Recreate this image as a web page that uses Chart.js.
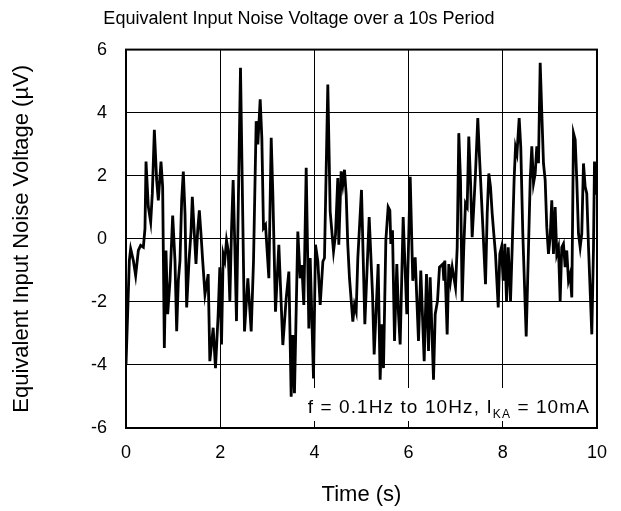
<!DOCTYPE html>
<html>
<head>
<meta charset="utf-8">
<script src="https://cdn.jsdelivr.net/npm/chart.js@4"></script>
<style>
  html, body { margin: 0; padding: 0; background: #fff; }
</style>
</head>
<body>
<canvas id="chart" width="621" height="511"></canvas>
<script>
// noise trace: time (s) and voltage (µV)
const timeS = [
  0.000, 0.071, 0.099, 0.156, 0.205, 0.262, 0.311, 0.368, 0.403, 0.425,
  0.474, 0.524, 0.559, 0.602, 0.651, 0.686, 0.743, 0.778, 0.814, 0.849,
  0.885, 0.934, 0.991, 1.040, 1.076, 1.111, 1.146, 1.182, 1.217, 1.253,
  1.288, 1.338, 1.380, 1.408, 1.451, 1.486, 1.522, 1.557, 1.592, 1.628,
  1.677, 1.745, 1.780, 1.851, 1.900, 1.957, 1.992, 2.028, 2.063, 2.098,
  2.134, 2.169, 2.205, 2.240, 2.275, 2.311, 2.346, 2.381, 2.431, 2.516,
  2.587, 2.658, 2.707, 2.764, 2.799, 2.849, 2.884, 2.919, 2.962, 3.033,
  3.083, 3.118, 3.174, 3.245, 3.330, 3.401, 3.458, 3.507, 3.542, 3.577,
  3.648, 3.698, 3.733, 3.775, 3.826, 3.882, 3.911, 3.981, 4.023, 4.073,
  4.123, 4.180, 4.214, 4.285, 4.335, 4.406, 4.448, 4.497, 4.518, 4.568,
  4.603, 4.639, 4.675, 4.709, 4.745, 4.816, 4.851, 4.887, 4.922, 5.000,
  5.071, 5.163, 5.234, 5.269, 5.354, 5.396, 5.432, 5.467, 5.517, 5.566,
  5.602, 5.623, 5.658, 5.701, 5.750, 5.786, 5.821, 5.885, 5.962, 6.034,
  6.089, 6.140, 6.210, 6.259, 6.331, 6.380, 6.423, 6.458, 6.529, 6.565,
  6.614, 6.656, 6.727, 6.748, 6.769, 6.819, 6.854, 6.890, 6.926, 6.996,
  7.032, 7.066, 7.102, 7.138, 7.172, 7.208, 7.244, 7.278, 7.314, 7.350,
  7.384, 7.420, 7.469, 7.505, 7.563, 7.633, 7.669, 7.703, 7.739, 7.775,
  7.809, 7.845, 7.903, 7.937, 7.972, 8.008, 8.043, 8.079, 8.115, 8.164,
  8.200, 8.240, 8.270, 8.301, 8.348, 8.382, 8.425, 8.497, 8.546, 8.582,
  8.616, 8.652, 8.688, 8.722, 8.758, 8.794, 8.828, 8.864, 8.900, 8.934,
  8.970, 9.006, 9.040, 9.076, 9.112, 9.146, 9.182, 9.218, 9.252, 9.288,
  9.324, 9.358, 9.395, 9.431, 9.465, 9.501, 9.537, 9.571, 9.607, 9.643,
  9.677, 9.713, 9.749, 9.783, 9.820, 9.890, 9.926, 9.947, 9.983, 10.000,
];
const noiseUV = [
  -4.00, -0.69, -0.32, -0.69, -1.17, -0.37, -0.21, -0.27, 0.32, 2.45,
  1.01, 0.53, 1.44, 3.46, 1.86, 1.22, 2.45, 1.65, -3.46, -0.37,
  -2.39, -1.33, 0.74, -0.69, -2.93, -1.33, -0.69, 1.22, 2.13, 0.80,
  -2.18, -0.69, 0.21, 1.33, 0.16, -0.80, 0.27, 0.90, 0.16, -0.69,
  -1.76, -1.12, -3.88, -2.82, -4.10, -2.39, -0.90, -3.35, -0.48, -0.69,
  -0.05, -0.37, -1.97, 0.27, 1.86, -0.27, -2.61, 0.80, 5.42, -2.94,
  -1.25, -2.94, -0.72, 3.73, 2.99, 4.42, 3.20, 0.34, 0.44, -1.25,
  3.20, 1.40, -2.31, -0.19, -3.37, -1.89, -1.04, -5.01, -3.05, -4.90,
  0.23, -1.25, -0.83, -2.10, 2.25, -2.84, -0.61, -4.43, -0.19, -0.72,
  -2.10, -0.72, -0.61, 4.89, 0.87, -0.40, 0.13, 1.93, -0.19, 2.14,
  1.72, 2.19, 1.40, -0.19, -1.25, -2.63, -2.10, -2.31, -0.61, 1.55,
  -2.71, 0.69, -1.76, -3.67, -0.80, -4.47, -2.71, -4.10, -0.05, 1.01,
  0.90, -0.16, 0.27, -3.24, -0.80, -2.39, -3.35, 0.69, -2.39, 1.97,
  -1.33, -0.59, -3.24, -1.01, -3.88, -1.12, -3.56, -1.22, -4.47, -2.39,
  -1.97, -0.90, -0.80, -1.33, -0.69, -3.03, -0.80, -1.33, -0.90, -1.54,
  -0.27, 3.35, 1.86, -1.97, -0.27, 1.12, 1.01, 3.24, 1.86, 0.05,
  1.01, 2.07, 3.83, 2.61, 0.80, -1.44, 0.80, 2.07, 1.65, 0.80,
  0.16, -0.48, -2.18, -0.48, -0.27, -1.33, -0.16, -1.97, -0.27, -1.97,
  -0.27, 1.86, 2.90, 2.70, 3.83, 2.90, 0.16, -3.10, -0.27, 1.86,
  2.93, 1.76, 2.07, 2.93, 2.40, 5.58, 4.00, 2.39, 1.86, 0.37,
  -0.48, 0.05, 1.22, -0.48, 1.01, -0.48, -0.27, -1.97, -0.27, -0.16,
  -0.90, -0.37, -1.33, -1.12, -1.86, 3.35, 3.14, 1.86, 0.16, -0.27,
  0.16, 2.39, 1.65, 1.44, -0.27, -3.03, -0.27, 2.45, 1.44, 2.30,
];
const xTicks = [0, 2, 4, 6, 8, 10];
const yTicks = [-6, -4, -2, 0, 2, 4, 6];

const TITLE = 'Equivalent Input Noise Voltage over a 10s Period';
const X_TITLE = 'Time (s)';
const Y_TITLE = 'Equivalent Input Noise Voltage (µV)';
const NOTE_HEAD = 'f = 0.1Hz to 10Hz, I';
const NOTE_SUB = 'KA';
const NOTE_TAIL = ' = 10mA';

const FONT_FAMILY = "Arial, 'Liberation Sans', sans-serif";

function useTicks(values) {
  return (scale) => { scale.ticks = values.map((v) => ({ value: v })); };
}

// white-backed condition note in the lower right, then the plot frame on top
const overlayPlugin = {
  id: 'overlay',
  afterDatasetsDraw(chart) {
    const { ctx, chartArea: a } = chart;
    const big = `19px ${FONT_FAMILY}`;
    const small = `12px ${FONT_FAMILY}`;
    ctx.save();
    ctx.letterSpacing = '1.1px';
    ctx.font = big;
    const wHead = ctx.measureText(NOTE_HEAD).width;
    const wTail = ctx.measureText(NOTE_TAIL).width;
    ctx.font = small;
    const wSub = ctx.measureText(NOTE_SUB).width;
    const right = a.right - 7;
    const x0 = right - (wHead + wSub + wTail);

    ctx.fillStyle = '#fff';
    ctx.fillRect(x0 - 5, a.bottom - 40, a.right - x0 + 5, 33);

    ctx.fillStyle = '#000';
    ctx.textBaseline = 'alphabetic';
    ctx.font = big;
    ctx.fillText(NOTE_HEAD, x0, a.bottom - 15);
    ctx.font = small;
    ctx.fillText(NOTE_SUB, x0 + wHead, a.bottom - 10);
    ctx.font = big;
    ctx.fillText(NOTE_TAIL, x0 + wHead + wSub, a.bottom - 15);

    ctx.strokeStyle = '#000';
    ctx.lineWidth = 2;
    ctx.strokeRect(a.left, a.top, a.right - a.left, a.bottom - a.top);
    ctx.restore();
  },
};

const tickFont = { family: FONT_FAMILY, size: 18 };
const axisTitleFont = { family: FONT_FAMILY, size: 22 };

new Chart(document.getElementById('chart'), {
  type: 'line',
  data: {
    datasets: [{
      data: timeS.map((t, i) => ({ x: t, y: noiseUV[i] })),
      borderColor: '#000',
      borderWidth: 2.8,
      pointRadius: 0,
      tension: 0,
      fill: false,
    }],
  },
  options: {
    responsive: false,
    animation: false,
    devicePixelRatio: 1,
    layout: { padding: { left: 0, right: 23, top: 0, bottom: 0 } },
    plugins: {
      legend: { display: false },
      tooltip: { enabled: false },
      title: {
        display: true,
        text: TITLE,
        color: '#000',
        font: { family: FONT_FAMILY, size: 18, weight: 'normal' },
        padding: { top: 8, bottom: 20 },
      },
    },
    scales: {
      x: {
        type: 'linear',
        min: 0,
        max: 10,
        afterBuildTicks: useTicks(xTicks),
        afterFit: (s) => { s.height = 83; },
        border: { display: false },
        grid: { color: '#000', lineWidth: 1, drawTicks: false },
        ticks: { color: '#000', font: tickFont, padding: 14, maxRotation: 0 },
        title: {
          display: true,
          text: X_TITLE,
          color: '#000',
          font: axisTitleFont,
          padding: { top: 0, bottom: 3 },
        },
      },
      y: {
        min: -6,
        max: 6,
        afterBuildTicks: useTicks(yTicks),
        afterFit: (s) => { s.width = 126; },
        border: { display: false },
        grid: { color: '#000', lineWidth: 1, drawTicks: false },
        ticks: { color: '#000', font: tickFont, padding: 19 },
        title: {
          display: true,
          text: Y_TITLE,
          color: '#000',
          font: axisTitleFont,
          padding: { top: 9, bottom: 0 },
        },
      },
    },
  },
  plugins: [overlayPlugin],
});
</script>
</body>
</html>
